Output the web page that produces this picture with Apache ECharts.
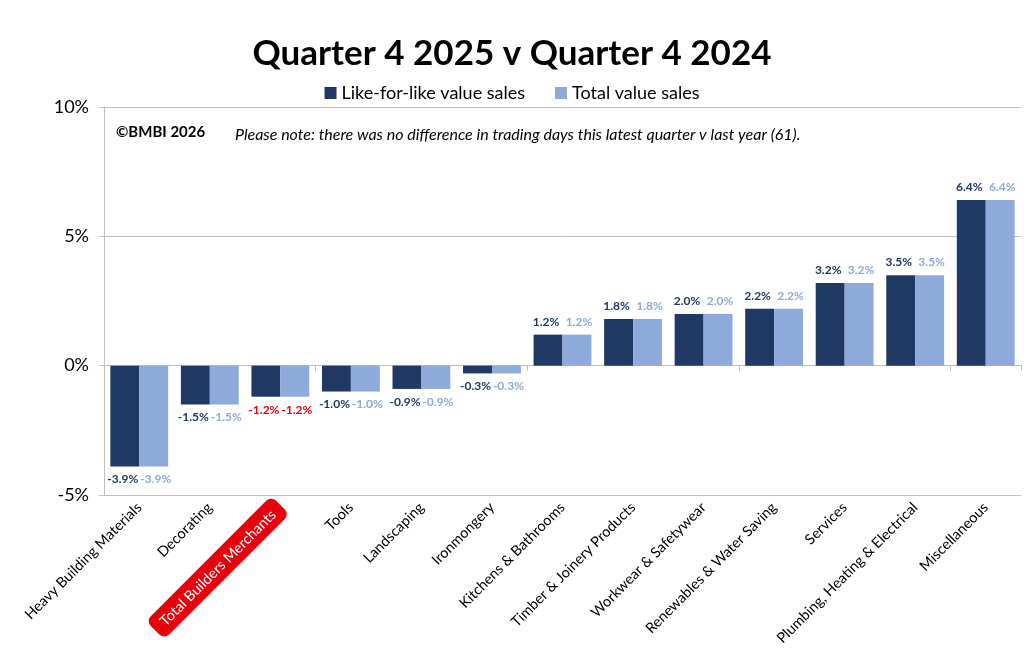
<!DOCTYPE html>
<html>
<head>
<meta charset="utf-8">
<script src="https://cdn.jsdelivr.net/npm/echarts@6/dist/echarts.min.js"></script>
<style>html,body{margin:0;padding:0;background:#fff;}#chart{width:1024px;height:668px;}</style>
</head>
<body>
<div id="chart"></div>
<script>
const categories = ["Heavy Building Materials","Decorating","Total Builders Merchants","Tools","Landscaping","Ironmongery","Kitchens & Bathrooms","Timber & Joinery Products","Workwear & Safetywear","Renewables & Water Saving","Services","Plumbing, Heating & Electrical","Miscellaneous"];
const likeForLike = [-3.9,-1.5,-1.2,-1.0,-0.9,-0.3,1.2,1.8,2.0,2.2,3.2,3.5,6.4];
const totalValue = [-3.9,-1.5,-1.2,-1.0,-0.9,-0.3,1.2,1.8,2.0,2.2,3.2,3.5,6.4];
const yTicks = [-5,0,5,10];
const highlight = "Total Builders Merchants";
const seriesNames = ["Like-for-like value sales","Total value sales"];

const FONT = "Lato";
const DARK = "#1f3864", LIGHT = "#8eaadb", RED = "#e8000d";

function items(arr, labelColor) {
  return arr.map((v, i) => ({
    value: v,
    label: {
      position: v < 0 ? 'bottom' : 'top',
      color: categories[i] === highlight ? RED : labelColor
    }
  }));
}

const chart = echarts.init(document.getElementById('chart'));
chart.setOption({
  animation: false,
  backgroundColor: '#fff',
  title: {
    text: "Quarter 4 2025 v Quarter 4 2024",
    left: 'center', top: 31,
    textStyle: {fontFamily: FONT, fontWeight: 'bold', fontSize: 35, color: '#000'}
  },
  legend: {
    top: 79, left: 'center',
    itemWidth: 12, itemHeight: 12, itemGap: 30,
    icon: 'rect',
    textStyle: {fontFamily: FONT, fontSize: 18, color: '#000'},
    data: seriesNames
  },
  grid: {left: 104, right: 3, top: 107, bottom: 173},
  xAxis: [{
    type: 'category', data: categories,
    axisLine: {onZero: true, lineStyle: {color: '#bfbfbf', width: 1}},
    axisTick: {show: true, length: 5, lineStyle: {color: '#bfbfbf'}},
    axisLabel: {show: false},
    splitLine: {show: false}
  }, {
    type: 'category', data: categories, position: 'bottom',
    axisLine: {show: false}, axisTick: {show: false},
    axisLabel: {
      rotate: 45, interval: 0, margin: 10,
      fontFamily: FONT, fontSize: 14.5, color: '#000',
      formatter: v => v === highlight ? '{hl|' + v + '}' : v,
      rich: {hl: {backgroundColor: RED, color: '#fff', borderRadius: 7, padding: [6, 10, 5, 10], fontFamily: FONT, fontSize: 14.5}}
    }
  }],
  yAxis: {
    type: 'value', min: -5, max: 10, interval: 5,
    axisLine: {show: true, lineStyle: {color: '#bfbfbf'}},
    axisTick: {show: true, length: 5, lineStyle: {color: '#bfbfbf'}},
    axisLabel: {fontFamily: FONT, fontSize: 18, color: '#000', margin: 15, formatter: v => yTicks.includes(v) ? v + '%' : ''},
    splitLine: {lineStyle: {color: '#bfbfbf'}}
  },
  series: [{
    name: seriesNames[0], type: 'bar', xAxisIndex: 0,
    data: items(likeForLike, DARK),
    itemStyle: {color: DARK},
    barGap: '0%', barCategoryGap: '18%',
    label: {show: true, fontFamily: FONT, fontWeight: 'bold', fontSize: 12, distance: 7, offset: [-2, 0], formatter: p => p.value.toFixed(1) + '%'}
  }, {
    name: seriesNames[1], type: 'bar', xAxisIndex: 0,
    data: items(totalValue, LIGHT),
    itemStyle: {color: LIGHT},
    barGap: '0%', barCategoryGap: '18%',
    label: {show: true, fontFamily: FONT, fontWeight: 'bold', fontSize: 12, distance: 7, offset: [2, 0], formatter: p => p.value.toFixed(1) + '%'}
  }],
  graphic: [{
    type: 'text', left: 116, top: 125,
    style: {text: '©BMBI 2026', fontFamily: FONT, fontWeight: 'bold', fontSize: 15, fill: '#000'}
  }, {
    type: 'text', left: 235, top: 127,
    style: {text: 'Please note: there was no difference in trading days this latest quarter v last year (61).', fontFamily: FONT, fontStyle: 'italic', fontSize: 16, fill: '#000'}
  }]
});
</script>
</body>
</html>
